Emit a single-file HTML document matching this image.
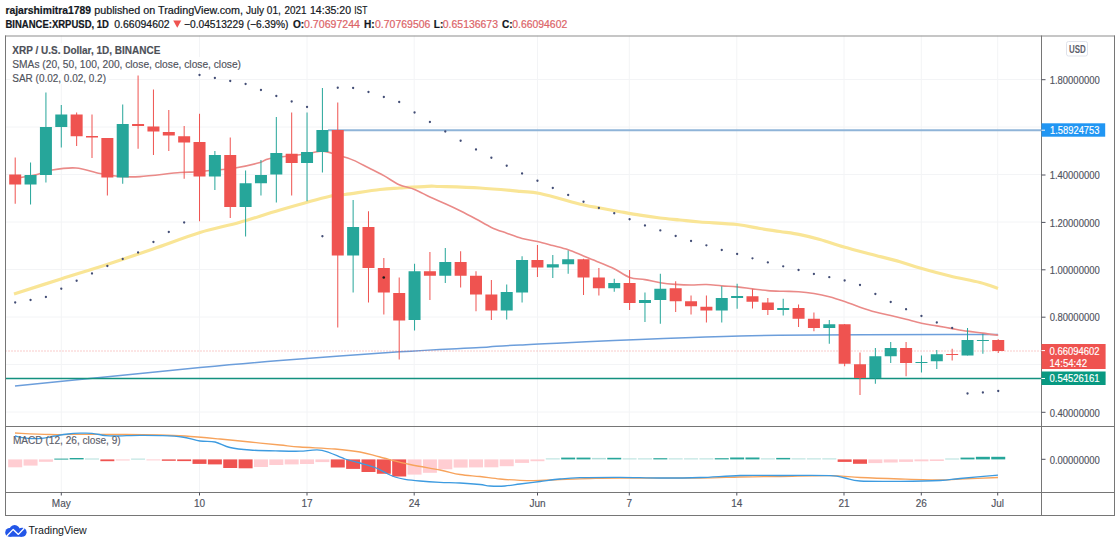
<!DOCTYPE html>
<html><head><meta charset="utf-8"><style>html,body{margin:0;padding:0;background:#fff;width:1120px;height:546px;overflow:hidden}</style></head><body>
<svg width="1120" height="546" viewBox="0 0 1120 546" style="display:block">
<rect width="1120" height="546" fill="#ffffff"/>
<g font-family='"Liberation Sans", sans-serif'>
<text x="5.4" y="13.6" font-size="10.3" fill="#131722" font-weight="bold" text-anchor="start" textLength="85.6" lengthAdjust="spacingAndGlyphs" stroke="#131722" stroke-width="0.2">rajarshimitra1789</text>
<text x="94.3" y="13.6" font-size="10.2" fill="#131722" font-weight="normal" text-anchor="start" textLength="60.9" lengthAdjust="spacingAndGlyphs" stroke="#131722" stroke-width="0.2">published on</text>
<text x="158" y="13.6" font-size="10.2" fill="#131722" font-weight="normal" text-anchor="start" textLength="85" lengthAdjust="spacingAndGlyphs" stroke="#131722" stroke-width="0.2">TradingView.com,</text>
<text x="246" y="13.6" font-size="10.2" fill="#131722" font-weight="normal" text-anchor="start" textLength="34.8" lengthAdjust="spacingAndGlyphs" stroke="#131722" stroke-width="0.2">July 01,</text>
<text x="284.5" y="13.6" font-size="10.2" fill="#131722" font-weight="normal" text-anchor="start" textLength="21.9" lengthAdjust="spacingAndGlyphs" stroke="#131722" stroke-width="0.2">2021</text>
<text x="310" y="13.6" font-size="10.2" fill="#131722" font-weight="normal" text-anchor="start" textLength="41" lengthAdjust="spacingAndGlyphs" stroke="#131722" stroke-width="0.2">14:35:20</text>
<text x="354.3" y="13.6" font-size="10.2" fill="#131722" font-weight="normal" text-anchor="start" textLength="13.0" lengthAdjust="spacingAndGlyphs" stroke="#131722" stroke-width="0.2">IST</text>
<text x="5.4" y="27.7" font-size="10.1" fill="#131722" font-weight="bold" text-anchor="start" textLength="103.6" lengthAdjust="spacingAndGlyphs" stroke="#131722" stroke-width="0.2">BINANCE:XRPUSD, 1D</text>
<text x="114.3" y="27.7" font-size="10.4" fill="#131722" font-weight="normal" text-anchor="start" textLength="55.3" lengthAdjust="spacingAndGlyphs" stroke="#131722" stroke-width="0.2">0.66094602</text>
<path d="M173.2,20.6 L181.3,20.6 L177.25,27.8 Z" fill="#ef5350"/>
<text x="184" y="27.7" font-size="10.4" fill="#131722" font-weight="normal" text-anchor="start" textLength="104.4" lengthAdjust="spacingAndGlyphs" stroke="#131722" stroke-width="0.2">−0.04513229 (−6.39%)</text>
<text x="293" y="27.7" font-size="10.1" fill="#131722" font-weight="bold" text-anchor="start" stroke="#131722" stroke-width="0.2">O:</text>
<text x="304" y="27.7" font-size="10.4" fill="#dc6468" font-weight="normal" text-anchor="start" textLength="56" lengthAdjust="spacingAndGlyphs" stroke="#dc6468" stroke-width="0.2">0.70697244</text>
<text x="364" y="27.7" font-size="10.1" fill="#131722" font-weight="bold" text-anchor="start" stroke="#131722" stroke-width="0.2">H:</text>
<text x="375" y="27.7" font-size="10.4" fill="#dc6468" font-weight="normal" text-anchor="start" textLength="55.4" lengthAdjust="spacingAndGlyphs" stroke="#dc6468" stroke-width="0.2">0.70769506</text>
<text x="433.8" y="27.7" font-size="10.1" fill="#131722" font-weight="bold" text-anchor="start" stroke="#131722" stroke-width="0.2">L:</text>
<text x="442.8" y="27.7" font-size="10.4" fill="#dc6468" font-weight="normal" text-anchor="start" textLength="55.2" lengthAdjust="spacingAndGlyphs" stroke="#dc6468" stroke-width="0.2">0.65136673</text>
<text x="502" y="27.7" font-size="10.1" fill="#131722" font-weight="bold" text-anchor="start" stroke="#131722" stroke-width="0.2">C:</text>
<text x="512.3" y="27.7" font-size="10.4" fill="#dc6468" font-weight="normal" text-anchor="start" textLength="54.9" lengthAdjust="spacingAndGlyphs" stroke="#dc6468" stroke-width="0.2">0.66094602</text>
</g>
<g>
<line x1="61.3" y1="35.5" x2="61.3" y2="492.5" stroke="#f3f4f6" stroke-width="1"/>
<line x1="199.5" y1="35.5" x2="199.5" y2="492.5" stroke="#f3f4f6" stroke-width="1"/>
<line x1="307" y1="35.5" x2="307" y2="492.5" stroke="#f3f4f6" stroke-width="1"/>
<line x1="414.2" y1="35.5" x2="414.2" y2="492.5" stroke="#f3f4f6" stroke-width="1"/>
<line x1="537.5" y1="35.5" x2="537.5" y2="492.5" stroke="#f3f4f6" stroke-width="1"/>
<line x1="629.3" y1="35.5" x2="629.3" y2="492.5" stroke="#f3f4f6" stroke-width="1"/>
<line x1="736.8" y1="35.5" x2="736.8" y2="492.5" stroke="#f3f4f6" stroke-width="1"/>
<line x1="844" y1="35.5" x2="844" y2="492.5" stroke="#f3f4f6" stroke-width="1"/>
<line x1="921.3" y1="35.5" x2="921.3" y2="492.5" stroke="#f3f4f6" stroke-width="1"/>
<line x1="997.7" y1="35.5" x2="997.7" y2="492.5" stroke="#f3f4f6" stroke-width="1"/>
<line x1="5.5" y1="79.5" x2="1041.5" y2="79.5" stroke="#f3f4f6" stroke-width="1"/>
<line x1="5.5" y1="127" x2="1041.5" y2="127" stroke="#f3f4f6" stroke-width="1"/>
<line x1="5.5" y1="174.5" x2="1041.5" y2="174.5" stroke="#f3f4f6" stroke-width="1"/>
<line x1="5.5" y1="222" x2="1041.5" y2="222" stroke="#f3f4f6" stroke-width="1"/>
<line x1="5.5" y1="269.5" x2="1041.5" y2="269.5" stroke="#f3f4f6" stroke-width="1"/>
<line x1="5.5" y1="317" x2="1041.5" y2="317" stroke="#f3f4f6" stroke-width="1"/>
<line x1="5.5" y1="364.5" x2="1041.5" y2="364.5" stroke="#f3f4f6" stroke-width="1"/>
<line x1="5.5" y1="412" x2="1041.5" y2="412" stroke="#f3f4f6" stroke-width="1"/>
</g>
<defs><clipPath id="mp"><rect x="5.5" y="35.5" width="1036.0" height="391.0"/></clipPath><clipPath id="mc"><rect x="5.5" y="426.5" width="1036.0" height="66.0"/></clipPath></defs>
<g clip-path="url(#mp)">
<path d="M15.00,386.00 C29.17,384.58 69.17,380.58 100.00,377.50 C130.83,374.42 170.00,370.33 200.00,367.50 C230.00,364.67 246.75,363.12 280.00,360.50 C313.25,357.88 366.17,353.97 399.50,351.80 C432.83,349.63 459.92,348.63 480.00,347.50 C500.08,346.37 476.67,346.92 520.00,345.00 C563.33,343.08 660.33,337.75 740.00,336.00 C819.67,334.25 955.00,334.75 998.00,334.50" fill="none" stroke="#6c9edb" stroke-width="1.5"/>
<path d="M14.00,294.00 C21.83,291.50 45.50,283.92 61.00,279.00 C76.50,274.08 91.67,269.50 107.00,264.50 C122.33,259.50 137.50,254.33 153.00,249.00 C168.50,243.67 185.50,236.95 200.00,232.50 C214.50,228.05 226.67,226.05 240.00,222.30 C253.33,218.55 265.00,214.34 280.00,210.00 C295.00,205.66 319.17,198.83 330.00,196.25 C340.83,193.67 336.67,195.62 345.00,194.50 C353.33,193.38 370.83,190.58 380.00,189.50 C389.17,188.42 392.08,188.53 400.00,188.00 C407.92,187.47 420.83,186.55 427.50,186.30 C434.17,186.05 431.25,186.22 440.00,186.50 C448.75,186.78 466.67,187.20 480.00,188.00 C493.33,188.80 510.00,190.38 520.00,191.30 C530.00,192.22 529.50,191.25 540.00,193.50 C550.50,195.75 573.00,202.38 583.00,204.80 C593.00,207.22 593.83,206.85 600.00,208.00 C606.17,209.15 613.33,210.50 620.00,211.70 C626.67,212.90 633.33,214.15 640.00,215.20 C646.67,216.25 653.33,217.20 660.00,218.00 C666.67,218.80 673.33,219.33 680.00,220.00 C686.67,220.67 690.50,221.25 700.00,222.00 C709.50,222.75 727.00,223.42 737.00,224.50 C747.00,225.58 752.83,227.33 760.00,228.50 C767.17,229.67 773.33,230.48 780.00,231.50 C786.67,232.52 793.33,233.27 800.00,234.60 C806.67,235.93 812.67,237.43 820.00,239.50 C827.33,241.57 835.67,244.58 844.00,247.00 C852.33,249.42 860.67,251.55 870.00,254.00 C879.33,256.45 891.67,259.37 900.00,261.70 C908.33,264.03 911.67,265.62 920.00,268.00 C928.33,270.38 940.00,273.58 950.00,276.00 C960.00,278.42 972.00,280.42 980.00,282.50 C988.00,284.58 995.00,287.50 998.00,288.50" fill="none" stroke="#f9e596" stroke-width="3.2" stroke-linejoin="round"/>
<path d="M15.20,178.00 C16.00,177.92 16.37,178.08 20.00,177.50 C23.63,176.92 31.67,175.75 37.00,174.50 C42.33,173.25 45.50,171.08 52.00,170.00 C58.50,168.92 68.00,167.42 76.00,168.00 C84.00,168.58 92.67,172.08 100.00,173.50 C107.33,174.92 113.33,175.98 120.00,176.50 C126.67,177.02 130.00,177.27 140.00,176.60 C150.00,175.93 170.83,173.27 180.00,172.50 C189.17,171.73 190.00,172.33 195.00,172.00 C200.00,171.67 203.33,171.17 210.00,170.50 C216.67,169.83 226.67,169.33 235.00,168.00 C243.33,166.67 254.17,164.08 260.00,162.50 C265.83,160.92 262.16,159.95 270.00,158.50 C277.84,157.05 298.31,155.06 307.04,153.82 C315.77,152.59 317.28,150.88 322.40,151.10 C327.52,151.32 332.64,153.62 337.76,155.12 C342.88,156.63 348.00,158.01 353.12,160.12 C358.24,162.24 363.36,165.22 368.48,167.80 C373.60,170.38 378.72,172.79 383.84,175.61 C388.96,178.44 394.08,182.46 399.20,184.76 C404.32,187.07 409.44,187.40 414.56,189.45 C419.68,191.50 424.80,194.64 429.92,197.04 C435.04,199.44 440.16,201.50 445.28,203.84 C450.40,206.17 455.52,208.52 460.64,211.05 C465.76,213.58 470.88,216.28 476.00,219.00 C481.12,221.72 486.24,225.04 491.36,227.40 C496.48,229.76 501.60,231.34 506.72,233.18 C511.84,235.01 516.96,237.05 522.08,238.43 C527.20,239.80 532.32,240.27 537.44,241.45 C542.56,242.63 547.68,244.12 552.80,245.50 C557.92,246.88 563.04,247.97 568.16,249.71 C573.28,251.45 578.40,253.86 583.52,255.94 C588.64,258.02 593.76,260.06 598.88,262.20 C604.00,264.34 609.12,266.22 614.24,268.75 C619.36,271.28 624.48,275.59 629.60,277.40 C634.72,279.21 639.84,278.74 644.96,279.62 C650.08,280.51 655.20,281.92 660.32,282.71 C665.44,283.50 670.56,283.98 675.68,284.38 C680.80,284.77 685.92,285.03 691.04,285.06 C696.16,285.09 701.28,284.42 706.40,284.56 C711.52,284.70 716.64,285.51 721.76,285.90 C726.88,286.29 732.00,286.41 737.12,286.91 C742.24,287.41 747.36,288.28 752.48,288.90 C757.60,289.52 762.72,290.21 767.84,290.61 C772.96,291.01 778.08,291.11 783.20,291.29 C788.32,291.47 793.44,291.33 798.56,291.70 C803.68,292.07 808.80,292.66 813.92,293.50 C819.04,294.34 824.16,295.38 829.28,296.71 C834.40,298.05 839.52,299.77 844.64,301.52 C849.76,303.27 854.88,305.46 860.00,307.21 C865.12,308.97 870.24,310.67 875.36,312.06 C880.48,313.46 885.60,314.38 890.72,315.59 C895.84,316.80 900.96,318.04 906.08,319.32 C911.20,320.61 916.32,322.19 921.44,323.27 C926.56,324.36 931.68,324.95 936.80,325.84 C941.92,326.72 947.04,327.70 952.16,328.59 C957.28,329.47 962.40,330.40 967.52,331.15 C972.64,331.90 977.76,332.39 982.88,333.09 C988.00,333.78 995.68,334.95 998.24,335.32" fill="none" stroke="#ea8a88" stroke-width="1.6" stroke-linejoin="round"/>
<line x1="328" y1="130.2" x2="1041.5" y2="130.2" stroke="#8fb4d8" stroke-width="1.9"/>
<line x1="5.5" y1="378.5" x2="1041.5" y2="378.5" stroke="#13917f" stroke-width="1.6"/>
<line x1="5.5" y1="351" x2="1041.5" y2="351" stroke="#ef5350" stroke-width="1" stroke-dasharray="1,2" opacity="0.6"/>
<rect x="14.70" y="157.5" width="1" height="46.25" fill="#ef5350"/>
<rect x="9.20" y="174.5" width="12" height="10.00" fill="#ef5350"/>
<rect x="30.06" y="162.5" width="1" height="42.00" fill="#26a69a"/>
<rect x="24.56" y="175" width="12" height="9.50" fill="#26a69a"/>
<rect x="45.42" y="92.5" width="1" height="90.00" fill="#26a69a"/>
<rect x="39.92" y="127" width="12" height="48.00" fill="#26a69a"/>
<rect x="60.78" y="105" width="1" height="42.50" fill="#26a69a"/>
<rect x="55.28" y="114.5" width="12" height="12.50" fill="#26a69a"/>
<rect x="76.14" y="112.5" width="1" height="33.50" fill="#ef5350"/>
<rect x="70.64" y="114.5" width="12" height="21.75" fill="#ef5350"/>
<rect x="91.50" y="114.5" width="1" height="43.50" fill="#ef5350"/>
<rect x="86.00" y="136" width="12" height="1.50" fill="#ef5350"/>
<rect x="106.86" y="138" width="1" height="57.50" fill="#ef5350"/>
<rect x="101.36" y="138" width="12" height="39.50" fill="#ef5350"/>
<rect x="122.22" y="104.5" width="1" height="79.25" fill="#26a69a"/>
<rect x="116.72" y="124" width="12" height="53.50" fill="#26a69a"/>
<rect x="137.58" y="75.5" width="1" height="73.25" fill="#ef5350"/>
<rect x="132.08" y="124" width="12" height="2.00" fill="#ef5350"/>
<rect x="152.94" y="89.5" width="1" height="65.50" fill="#ef5350"/>
<rect x="147.44" y="126.5" width="12" height="5.00" fill="#ef5350"/>
<rect x="168.30" y="110" width="1" height="41.00" fill="#ef5350"/>
<rect x="162.80" y="132" width="12" height="3.50" fill="#ef5350"/>
<rect x="183.66" y="126" width="1" height="52.75" fill="#ef5350"/>
<rect x="178.16" y="136.25" width="12" height="6.25" fill="#ef5350"/>
<rect x="199.02" y="113.75" width="1" height="107.50" fill="#ef5350"/>
<rect x="193.52" y="142" width="12" height="34.50" fill="#ef5350"/>
<rect x="214.38" y="151" width="1" height="39.00" fill="#26a69a"/>
<rect x="208.88" y="155" width="12" height="21.50" fill="#26a69a"/>
<rect x="229.74" y="137.5" width="1" height="80.50" fill="#ef5350"/>
<rect x="224.24" y="155" width="12" height="52.00" fill="#ef5350"/>
<rect x="245.10" y="170.5" width="1" height="66.00" fill="#26a69a"/>
<rect x="239.60" y="183.25" width="12" height="23.75" fill="#26a69a"/>
<rect x="260.46" y="160" width="1" height="35.50" fill="#26a69a"/>
<rect x="254.96" y="175" width="12" height="8.25" fill="#26a69a"/>
<rect x="275.82" y="117" width="1" height="85.50" fill="#26a69a"/>
<rect x="270.32" y="153" width="12" height="21.50" fill="#26a69a"/>
<rect x="291.18" y="112.5" width="1" height="83.00" fill="#ef5350"/>
<rect x="285.68" y="153.75" width="12" height="9.25" fill="#ef5350"/>
<rect x="306.54" y="112.5" width="1" height="88.75" fill="#26a69a"/>
<rect x="301.04" y="152" width="12" height="11.00" fill="#26a69a"/>
<rect x="321.90" y="88" width="1" height="84.50" fill="#26a69a"/>
<rect x="316.40" y="130" width="12" height="22.00" fill="#26a69a"/>
<rect x="337.26" y="102.5" width="1" height="225.00" fill="#ef5350"/>
<rect x="331.76" y="130" width="12" height="125.50" fill="#ef5350"/>
<rect x="352.62" y="200" width="1" height="92.50" fill="#26a69a"/>
<rect x="347.12" y="227" width="12" height="28.50" fill="#26a69a"/>
<rect x="367.98" y="211.25" width="1" height="91.25" fill="#ef5350"/>
<rect x="362.48" y="227" width="12" height="41.00" fill="#ef5350"/>
<rect x="383.34" y="258" width="1" height="56.50" fill="#ef5350"/>
<rect x="377.84" y="268" width="12" height="24.50" fill="#ef5350"/>
<rect x="398.70" y="277.5" width="1" height="82.00" fill="#ef5350"/>
<rect x="393.20" y="293" width="12" height="27.50" fill="#ef5350"/>
<rect x="414.06" y="263.75" width="1" height="66.75" fill="#26a69a"/>
<rect x="408.56" y="271.25" width="12" height="48.75" fill="#26a69a"/>
<rect x="429.42" y="252" width="1" height="48.00" fill="#ef5350"/>
<rect x="423.92" y="271.25" width="12" height="4.50" fill="#ef5350"/>
<rect x="444.78" y="248" width="1" height="35.00" fill="#26a69a"/>
<rect x="439.28" y="262" width="12" height="13.75" fill="#26a69a"/>
<rect x="460.14" y="251.25" width="1" height="36.25" fill="#ef5350"/>
<rect x="454.64" y="262" width="12" height="13.75" fill="#ef5350"/>
<rect x="475.50" y="271.25" width="1" height="40.00" fill="#ef5350"/>
<rect x="470.00" y="275.75" width="12" height="18.75" fill="#ef5350"/>
<rect x="490.86" y="280" width="1" height="40.00" fill="#ef5350"/>
<rect x="485.36" y="294.5" width="12" height="16.00" fill="#ef5350"/>
<rect x="506.22" y="284.5" width="1" height="35.00" fill="#26a69a"/>
<rect x="500.72" y="292" width="12" height="18.50" fill="#26a69a"/>
<rect x="521.58" y="256.25" width="1" height="46.25" fill="#26a69a"/>
<rect x="516.08" y="260" width="12" height="32.50" fill="#26a69a"/>
<rect x="536.94" y="245" width="1" height="32.00" fill="#ef5350"/>
<rect x="531.44" y="260" width="12" height="7.50" fill="#ef5350"/>
<rect x="552.30" y="255" width="1" height="23.00" fill="#26a69a"/>
<rect x="546.80" y="264.25" width="12" height="3.25" fill="#26a69a"/>
<rect x="567.66" y="250.5" width="1" height="23.25" fill="#26a69a"/>
<rect x="562.16" y="259.25" width="12" height="5.00" fill="#26a69a"/>
<rect x="583.02" y="258.75" width="1" height="36.25" fill="#ef5350"/>
<rect x="577.52" y="259.25" width="12" height="18.25" fill="#ef5350"/>
<rect x="598.38" y="268" width="1" height="27.50" fill="#ef5350"/>
<rect x="592.88" y="277.5" width="12" height="10.75" fill="#ef5350"/>
<rect x="613.74" y="278.75" width="1" height="13.00" fill="#26a69a"/>
<rect x="608.24" y="283" width="12" height="5.25" fill="#26a69a"/>
<rect x="629.10" y="270" width="1" height="40.00" fill="#ef5350"/>
<rect x="623.60" y="283" width="12" height="20.00" fill="#ef5350"/>
<rect x="644.46" y="292.5" width="1" height="29.50" fill="#26a69a"/>
<rect x="638.96" y="300" width="12" height="3.00" fill="#26a69a"/>
<rect x="659.82" y="273.75" width="1" height="50.00" fill="#26a69a"/>
<rect x="654.32" y="288.75" width="12" height="11.25" fill="#26a69a"/>
<rect x="675.18" y="281.25" width="1" height="30.75" fill="#ef5350"/>
<rect x="669.68" y="288.25" width="12" height="13.00" fill="#ef5350"/>
<rect x="690.54" y="295.5" width="1" height="19.00" fill="#ef5350"/>
<rect x="685.04" y="301.25" width="12" height="5.00" fill="#ef5350"/>
<rect x="705.90" y="295.5" width="1" height="27.00" fill="#ef5350"/>
<rect x="700.40" y="306.75" width="12" height="3.75" fill="#ef5350"/>
<rect x="721.26" y="286.25" width="1" height="36.25" fill="#26a69a"/>
<rect x="715.76" y="298" width="12" height="12.50" fill="#26a69a"/>
<rect x="736.62" y="283.75" width="1" height="25.00" fill="#26a69a"/>
<rect x="731.12" y="296" width="12" height="2.00" fill="#26a69a"/>
<rect x="751.98" y="289.25" width="1" height="19.25" fill="#ef5350"/>
<rect x="746.48" y="296.25" width="12" height="5.50" fill="#ef5350"/>
<rect x="767.34" y="298" width="1" height="17.00" fill="#ef5350"/>
<rect x="761.84" y="302.5" width="12" height="7.50" fill="#ef5350"/>
<rect x="782.70" y="298.75" width="1" height="16.75" fill="#26a69a"/>
<rect x="777.20" y="308" width="12" height="2.00" fill="#26a69a"/>
<rect x="798.06" y="304.5" width="1" height="22.50" fill="#ef5350"/>
<rect x="792.56" y="308" width="12" height="10.75" fill="#ef5350"/>
<rect x="813.42" y="312.5" width="1" height="18.75" fill="#ef5350"/>
<rect x="807.92" y="318.75" width="12" height="9.25" fill="#ef5350"/>
<rect x="828.78" y="320" width="1" height="23.75" fill="#26a69a"/>
<rect x="823.28" y="324.25" width="12" height="3.75" fill="#26a69a"/>
<rect x="844.14" y="324" width="1" height="42.25" fill="#ef5350"/>
<rect x="838.64" y="324.25" width="12" height="39.50" fill="#ef5350"/>
<rect x="859.50" y="352.5" width="1" height="42.50" fill="#ef5350"/>
<rect x="854.00" y="364.25" width="12" height="13.75" fill="#ef5350"/>
<rect x="874.86" y="348" width="1" height="35.75" fill="#26a69a"/>
<rect x="869.36" y="356.25" width="12" height="21.75" fill="#26a69a"/>
<rect x="890.22" y="342" width="1" height="21.00" fill="#26a69a"/>
<rect x="884.72" y="348" width="12" height="8.25" fill="#26a69a"/>
<rect x="905.58" y="342" width="1" height="34.25" fill="#ef5350"/>
<rect x="900.08" y="348" width="12" height="15.00" fill="#ef5350"/>
<rect x="920.94" y="355.5" width="1" height="17.00" fill="#26a69a"/>
<rect x="915.44" y="362" width="12" height="1.00" fill="#26a69a"/>
<rect x="936.30" y="350" width="1" height="19.00" fill="#26a69a"/>
<rect x="930.80" y="354.25" width="12" height="7.00" fill="#26a69a"/>
<rect x="951.66" y="348.75" width="1" height="11.75" fill="#ef5350"/>
<rect x="946.16" y="354" width="12" height="1.00" fill="#ef5350"/>
<rect x="967.02" y="328" width="1" height="27.50" fill="#26a69a"/>
<rect x="961.52" y="340" width="12" height="15.50" fill="#26a69a"/>
<rect x="982.38" y="333.75" width="1" height="20.00" fill="#26a69a"/>
<rect x="976.88" y="340" width="12" height="1.00" fill="#26a69a"/>
<rect x="997.74" y="339.2" width="1" height="13.80" fill="#ef5350"/>
<rect x="992.24" y="340" width="12" height="11.00" fill="#ef5350"/>
<circle cx="383.75" cy="277.5" r="1.3" fill="#1a1a1a"/>
<circle cx="15.20" cy="302.5" r="1.15" fill="#424d75"/>
<circle cx="30.56" cy="300" r="1.15" fill="#424d75"/>
<circle cx="45.92" cy="297" r="1.15" fill="#424d75"/>
<circle cx="61.28" cy="288.75" r="1.15" fill="#424d75"/>
<circle cx="76.64" cy="280.75" r="1.15" fill="#424d75"/>
<circle cx="92.00" cy="273.5" r="1.15" fill="#424d75"/>
<circle cx="107.36" cy="266" r="1.15" fill="#424d75"/>
<circle cx="122.72" cy="259" r="1.15" fill="#424d75"/>
<circle cx="138.08" cy="252.5" r="1.15" fill="#424d75"/>
<circle cx="153.44" cy="242" r="1.15" fill="#424d75"/>
<circle cx="168.80" cy="232" r="1.15" fill="#424d75"/>
<circle cx="184.16" cy="222.5" r="1.15" fill="#424d75"/>
<circle cx="199.52" cy="75" r="1.15" fill="#424d75"/>
<circle cx="214.88" cy="78" r="1.15" fill="#424d75"/>
<circle cx="230.24" cy="81" r="1.15" fill="#424d75"/>
<circle cx="245.60" cy="84" r="1.15" fill="#424d75"/>
<circle cx="260.96" cy="90" r="1.15" fill="#424d75"/>
<circle cx="276.32" cy="96" r="1.15" fill="#424d75"/>
<circle cx="291.68" cy="101.5" r="1.15" fill="#424d75"/>
<circle cx="307.04" cy="107" r="1.15" fill="#424d75"/>
<circle cx="322.40" cy="236.25" r="1.15" fill="#424d75"/>
<circle cx="337.76" cy="87.75" r="1.15" fill="#424d75"/>
<circle cx="353.12" cy="88" r="1.15" fill="#424d75"/>
<circle cx="368.48" cy="92" r="1.15" fill="#424d75"/>
<circle cx="383.84" cy="97" r="1.15" fill="#424d75"/>
<circle cx="399.20" cy="102" r="1.15" fill="#424d75"/>
<circle cx="414.56" cy="112.5" r="1.15" fill="#424d75"/>
<circle cx="429.92" cy="122" r="1.15" fill="#424d75"/>
<circle cx="445.28" cy="131.5" r="1.15" fill="#424d75"/>
<circle cx="460.64" cy="140.75" r="1.15" fill="#424d75"/>
<circle cx="476.00" cy="149.5" r="1.15" fill="#424d75"/>
<circle cx="491.36" cy="157.75" r="1.15" fill="#424d75"/>
<circle cx="506.72" cy="165.75" r="1.15" fill="#424d75"/>
<circle cx="522.08" cy="173.5" r="1.15" fill="#424d75"/>
<circle cx="537.44" cy="180.75" r="1.15" fill="#424d75"/>
<circle cx="552.80" cy="188" r="1.15" fill="#424d75"/>
<circle cx="568.16" cy="195" r="1.15" fill="#424d75"/>
<circle cx="583.52" cy="201.75" r="1.15" fill="#424d75"/>
<circle cx="598.88" cy="208" r="1.15" fill="#424d75"/>
<circle cx="614.24" cy="213.25" r="1.15" fill="#424d75"/>
<circle cx="629.60" cy="219.25" r="1.15" fill="#424d75"/>
<circle cx="644.96" cy="225.5" r="1.15" fill="#424d75"/>
<circle cx="660.32" cy="230.4" r="1.15" fill="#424d75"/>
<circle cx="675.68" cy="236" r="1.15" fill="#424d75"/>
<circle cx="691.04" cy="241" r="1.15" fill="#424d75"/>
<circle cx="706.40" cy="245.3" r="1.15" fill="#424d75"/>
<circle cx="721.76" cy="250" r="1.15" fill="#424d75"/>
<circle cx="737.12" cy="254" r="1.15" fill="#424d75"/>
<circle cx="752.48" cy="258.3" r="1.15" fill="#424d75"/>
<circle cx="767.84" cy="262.4" r="1.15" fill="#424d75"/>
<circle cx="783.20" cy="266.3" r="1.15" fill="#424d75"/>
<circle cx="798.56" cy="270" r="1.15" fill="#424d75"/>
<circle cx="813.92" cy="274" r="1.15" fill="#424d75"/>
<circle cx="829.28" cy="277.2" r="1.15" fill="#424d75"/>
<circle cx="844.64" cy="280.5" r="1.15" fill="#424d75"/>
<circle cx="860.00" cy="285" r="1.15" fill="#424d75"/>
<circle cx="875.36" cy="294" r="1.15" fill="#424d75"/>
<circle cx="890.72" cy="302" r="1.15" fill="#424d75"/>
<circle cx="906.08" cy="309.25" r="1.15" fill="#424d75"/>
<circle cx="921.44" cy="316" r="1.15" fill="#424d75"/>
<circle cx="936.80" cy="322.5" r="1.15" fill="#424d75"/>
<circle cx="952.16" cy="328" r="1.15" fill="#424d75"/>
<circle cx="967.52" cy="393.5" r="1.15" fill="#424d75"/>
<circle cx="982.88" cy="392.5" r="1.15" fill="#424d75"/>
<circle cx="998.24" cy="391" r="1.15" fill="#424d75"/>
</g>
<g clip-path="url(#mc)">
<rect x="8.20" y="459.40" width="14" height="7.90" fill="#ffcdd2"/>
<rect x="23.56" y="459.40" width="14" height="6.20" fill="#ffcdd2"/>
<rect x="38.92" y="459.40" width="14" height="2.40" fill="#ffcdd2"/>
<rect x="54.28" y="458.60" width="14" height="1.00" fill="#26a69a"/>
<rect x="69.64" y="458.00" width="14" height="1.40" fill="#26a69a"/>
<rect x="85.00" y="458.50" width="14" height="1.00" fill="#b2dfdb"/>
<rect x="100.36" y="459.40" width="14" height="1.80" fill="#ef5350"/>
<rect x="115.72" y="459.40" width="14" height="1.10" fill="#ffcdd2"/>
<rect x="131.08" y="458.60" width="14" height="1.00" fill="#b2dfdb"/>
<rect x="146.44" y="459.40" width="14" height="1.00" fill="#ffcdd2"/>
<rect x="161.80" y="459.40" width="14" height="1.40" fill="#ef5350"/>
<rect x="177.16" y="459.40" width="14" height="1.70" fill="#ef5350"/>
<rect x="192.52" y="459.40" width="14" height="4.50" fill="#ef5350"/>
<rect x="207.88" y="459.40" width="14" height="5.00" fill="#ef5350"/>
<rect x="223.24" y="459.40" width="14" height="8.60" fill="#ef5350"/>
<rect x="238.60" y="459.40" width="14" height="8.90" fill="#ef5350"/>
<rect x="253.96" y="459.40" width="14" height="7.60" fill="#ffcdd2"/>
<rect x="269.32" y="459.40" width="14" height="5.60" fill="#ffcdd2"/>
<rect x="284.68" y="459.40" width="14" height="5.00" fill="#ffcdd2"/>
<rect x="300.04" y="459.40" width="14" height="4.60" fill="#ffcdd2"/>
<rect x="315.40" y="459.40" width="14" height="2.70" fill="#ffcdd2"/>
<rect x="330.76" y="459.40" width="14" height="8.10" fill="#ef5350"/>
<rect x="346.12" y="459.40" width="14" height="9.50" fill="#ef5350"/>
<rect x="361.48" y="459.40" width="14" height="12.60" fill="#ef5350"/>
<rect x="376.84" y="459.40" width="14" height="14.35" fill="#ef5350"/>
<rect x="392.20" y="459.40" width="14" height="17.10" fill="#ef5350"/>
<rect x="407.56" y="459.40" width="14" height="15.20" fill="#ffcdd2"/>
<rect x="422.92" y="459.40" width="14" height="13.40" fill="#ffcdd2"/>
<rect x="438.28" y="459.40" width="14" height="9.90" fill="#ffcdd2"/>
<rect x="453.64" y="459.40" width="14" height="8.20" fill="#ffcdd2"/>
<rect x="469.00" y="459.40" width="14" height="8.00" fill="#ffcdd2"/>
<rect x="484.36" y="459.40" width="14" height="7.90" fill="#ffcdd2"/>
<rect x="499.72" y="459.40" width="14" height="6.80" fill="#ffcdd2"/>
<rect x="515.08" y="459.40" width="14" height="3.50" fill="#ffcdd2"/>
<rect x="530.44" y="459.40" width="14" height="1.80" fill="#ffcdd2"/>
<rect x="545.80" y="458.40" width="14" height="1.00" fill="#b2dfdb"/>
<rect x="561.16" y="457.60" width="14" height="1.80" fill="#26a69a"/>
<rect x="576.52" y="457.60" width="14" height="1.80" fill="#26a69a"/>
<rect x="591.88" y="457.90" width="14" height="1.50" fill="#b2dfdb"/>
<rect x="607.24" y="457.80" width="14" height="1.60" fill="#26a69a"/>
<rect x="622.60" y="458.40" width="14" height="1.00" fill="#b2dfdb"/>
<rect x="637.96" y="458.40" width="14" height="1.00" fill="#b2dfdb"/>
<rect x="653.32" y="458.20" width="14" height="1.20" fill="#26a69a"/>
<rect x="668.68" y="458.40" width="14" height="1.00" fill="#b2dfdb"/>
<rect x="684.04" y="458.40" width="14" height="1.00" fill="#b2dfdb"/>
<rect x="699.40" y="458.40" width="14" height="1.00" fill="#b2dfdb"/>
<rect x="714.76" y="458.20" width="14" height="1.20" fill="#26a69a"/>
<rect x="730.12" y="457.50" width="14" height="1.90" fill="#26a69a"/>
<rect x="745.48" y="457.50" width="14" height="1.90" fill="#26a69a"/>
<rect x="760.84" y="458.40" width="14" height="1.00" fill="#b2dfdb"/>
<rect x="776.20" y="457.90" width="14" height="1.50" fill="#26a69a"/>
<rect x="791.56" y="458.40" width="14" height="1.00" fill="#b2dfdb"/>
<rect x="806.92" y="458.40" width="14" height="1.00" fill="#b2dfdb"/>
<rect x="822.28" y="458.40" width="14" height="1.00" fill="#b2dfdb"/>
<rect x="837.64" y="459.40" width="14" height="2.50" fill="#ef5350"/>
<rect x="853.00" y="459.40" width="14" height="4.40" fill="#ef5350"/>
<rect x="868.36" y="459.40" width="14" height="3.70" fill="#ffcdd2"/>
<rect x="883.72" y="459.40" width="14" height="3.10" fill="#ffcdd2"/>
<rect x="899.08" y="459.40" width="14" height="2.50" fill="#ffcdd2"/>
<rect x="914.44" y="459.40" width="14" height="1.90" fill="#ffcdd2"/>
<rect x="929.80" y="459.40" width="14" height="1.60" fill="#ffcdd2"/>
<rect x="945.16" y="458.50" width="14" height="1.00" fill="#b2dfdb"/>
<rect x="960.52" y="457.60" width="14" height="1.80" fill="#26a69a"/>
<rect x="975.88" y="456.80" width="14" height="2.60" fill="#26a69a"/>
<rect x="991.24" y="456.80" width="14" height="2.60" fill="#26a69a"/>
<path d="M15.00,433.00 C20.83,433.25 35.83,434.28 50.00,434.50 C64.17,434.72 81.67,434.22 100.00,434.30 C118.33,434.38 145.83,434.72 160.00,435.00 C174.17,435.28 175.00,435.33 185.00,436.00 C195.00,436.67 209.17,438.00 220.00,439.00 C230.83,440.00 240.00,441.00 250.00,442.00 C260.00,443.00 271.67,444.17 280.00,445.00 C288.33,445.83 290.83,446.33 300.00,447.00 C309.17,447.67 325.00,448.17 335.00,449.00 C345.00,449.83 352.50,450.67 360.00,452.00 C367.50,453.33 371.67,454.92 380.00,457.00 C388.33,459.08 400.00,462.33 410.00,464.50 C420.00,466.67 431.67,468.33 440.00,470.00 C448.33,471.67 453.33,473.42 460.00,474.50 C466.67,475.58 473.33,475.75 480.00,476.50 C486.67,477.25 493.33,478.37 500.00,479.00 C506.67,479.63 513.33,480.05 520.00,480.30 C526.67,480.55 533.33,480.63 540.00,480.50 C546.67,480.37 551.67,479.83 560.00,479.50 C568.33,479.17 580.00,478.75 590.00,478.50 C600.00,478.25 601.67,478.08 620.00,478.00 C638.33,477.92 680.00,478.17 700.00,478.00 C720.00,477.83 726.67,477.25 740.00,477.00 C753.33,476.75 765.00,476.73 780.00,476.50 C795.00,476.27 816.67,475.43 830.00,475.60 C843.33,475.77 848.33,476.93 860.00,477.50 C871.67,478.07 886.67,478.58 900.00,479.00 C913.33,479.42 930.00,480.00 940.00,480.00 C950.00,480.00 950.33,479.42 960.00,479.00 C969.67,478.58 991.67,477.75 998.00,477.50" fill="none" stroke="#f7a35c" stroke-width="1.3" stroke-linejoin="round"/>
<path d="M15.00,436.00 C17.17,436.38 23.50,437.92 28.00,438.30 C32.50,438.68 37.50,438.68 42.00,438.30 C46.50,437.92 50.67,436.72 55.00,436.00 C59.33,435.28 63.83,434.47 68.00,434.00 C72.17,433.53 76.00,433.32 80.00,433.20 C84.00,433.08 87.83,432.92 92.00,433.30 C96.17,433.68 101.17,435.05 105.00,435.50 C108.83,435.95 109.17,436.03 115.00,436.00 C120.83,435.97 132.50,435.37 140.00,435.30 C147.50,435.23 153.00,435.32 160.00,435.60 C167.00,435.88 175.33,436.10 182.00,437.00 C188.67,437.90 194.50,440.17 200.00,441.00 C205.50,441.83 210.00,440.92 215.00,442.00 C220.00,443.08 224.17,446.17 230.00,447.50 C235.83,448.83 241.67,449.42 250.00,450.00 C258.33,450.58 271.67,450.80 280.00,451.00 C288.33,451.20 293.00,451.32 300.00,451.20 C307.00,451.08 314.50,449.00 322.00,450.30 C329.50,451.60 338.67,456.88 345.00,459.00 C351.33,461.12 355.00,461.58 360.00,463.00 C365.00,464.42 370.50,465.75 375.00,467.50 C379.50,469.25 383.67,471.92 387.00,473.50 C390.33,475.08 392.00,476.03 395.00,477.00 C398.00,477.97 400.83,478.63 405.00,479.30 C409.17,479.97 414.17,480.50 420.00,481.00 C425.83,481.50 433.33,481.97 440.00,482.30 C446.67,482.63 453.33,482.63 460.00,483.00 C466.67,483.37 475.00,484.00 480.00,484.50 C485.00,485.00 485.83,485.75 490.00,486.00 C494.17,486.25 500.00,486.33 505.00,486.00 C510.00,485.67 514.17,484.75 520.00,484.00 C525.83,483.25 533.33,482.33 540.00,481.50 C546.67,480.67 553.33,479.63 560.00,479.00 C566.67,478.37 570.00,477.98 580.00,477.70 C590.00,477.42 606.67,477.25 620.00,477.30 C633.33,477.35 646.67,477.97 660.00,478.00 C673.33,478.03 686.67,477.92 700.00,477.50 C713.33,477.08 726.67,475.83 740.00,475.50 C753.33,475.17 765.00,475.48 780.00,475.50 C795.00,475.52 819.17,475.18 830.00,475.60 C840.83,476.02 840.00,477.10 845.00,478.00 C850.00,478.90 850.83,480.45 860.00,481.00 C869.17,481.55 886.67,481.38 900.00,481.30 C913.33,481.22 930.00,480.97 940.00,480.50 C950.00,480.03 950.33,479.38 960.00,478.50 C969.67,477.62 991.67,475.75 998.00,475.20" fill="none" stroke="#3d9be0" stroke-width="1.3" stroke-linejoin="round"/>
</g>
<g font-family='"Liberation Sans", sans-serif'>
<rect x="10" y="43" width="153" height="13" fill="#fff" fill-opacity="0.85"/><rect x="10" y="57" width="234" height="13" fill="#fff" fill-opacity="0.85"/><rect x="10" y="71" width="99" height="13" fill="#fff" fill-opacity="0.85"/>
<text x="12.3" y="53.9" font-size="10" fill="#4c4f57" font-weight="bold" text-anchor="start" textLength="148" lengthAdjust="spacingAndGlyphs" stroke="#4c4f57" stroke-width="0.15">XRP / U.S. Dollar, 1D, BINANCE</text>
<text x="12.3" y="67.8" font-size="10" fill="#4f525b" font-weight="normal" text-anchor="start" textLength="228.7" lengthAdjust="spacingAndGlyphs" stroke="#4f525b" stroke-width="0.15">SMAs (20, 50, 100, 200, close, close, close, close)</text>
<text x="12.3" y="81.7" font-size="10" fill="#4f525b" font-weight="normal" text-anchor="start" textLength="93.7" lengthAdjust="spacingAndGlyphs" stroke="#4f525b" stroke-width="0.15">SAR (0.02, 0.02, 0.2)</text>
<text x="12.9" y="443.9" font-size="10" fill="#5d606b" font-weight="normal" text-anchor="start" textLength="107.8" lengthAdjust="spacingAndGlyphs" stroke="#5d606b" stroke-width="0.15">MACD (12, 26, close, 9)</text>
</g>
<line x1="5.0" y1="36" x2="1115.0" y2="36" stroke="#8e8e8e" stroke-width="1.2"/>
<line x1="5.5" y1="35.5" x2="5.5" y2="516.0" stroke="#767676" stroke-width="1"/>
<line x1="1114.5" y1="35.5" x2="1114.5" y2="516.0" stroke="#767676" stroke-width="1"/>
<line x1="5.5" y1="515.5" x2="1114.5" y2="515.5" stroke="#767676" stroke-width="1"/>
<line x1="1041.5" y1="35.5" x2="1041.5" y2="515.5" stroke="#767676" stroke-width="1"/>
<line x1="5.5" y1="426.5" x2="1114.5" y2="426.5" stroke="#767676" stroke-width="1"/>
<line x1="5.5" y1="492.5" x2="1114.5" y2="492.5" stroke="#767676" stroke-width="1"/>
<g font-family='"Liberation Sans", sans-serif'>
<rect x="1066.5" y="41.5" width="21" height="14.5" rx="2" fill="#fff" stroke="#e0e3eb"/>
<text x="1068.9" y="52.5" font-size="10" fill="#5d606b" font-weight="bold" text-anchor="start" textLength="16.8" lengthAdjust="spacingAndGlyphs">USD</text>
<line x1="1041.5" y1="79.7" x2="1045.5" y2="79.7" stroke="#50535e" stroke-width="1"/>
<text x="1049.7" y="83.9" font-size="10" fill="#50535e" font-weight="normal" text-anchor="start" textLength="50" lengthAdjust="spacingAndGlyphs" stroke="#50535e" stroke-width="0.15">1.80000000</text>
<line x1="1041.5" y1="175" x2="1045.5" y2="175" stroke="#50535e" stroke-width="1"/>
<text x="1049.7" y="179.2" font-size="10" fill="#50535e" font-weight="normal" text-anchor="start" textLength="50" lengthAdjust="spacingAndGlyphs" stroke="#50535e" stroke-width="0.15">1.40000000</text>
<line x1="1041.5" y1="222.4" x2="1045.5" y2="222.4" stroke="#50535e" stroke-width="1"/>
<text x="1049.7" y="226.6" font-size="10" fill="#50535e" font-weight="normal" text-anchor="start" textLength="50" lengthAdjust="spacingAndGlyphs" stroke="#50535e" stroke-width="0.15">1.20000000</text>
<line x1="1041.5" y1="269.8" x2="1045.5" y2="269.8" stroke="#50535e" stroke-width="1"/>
<text x="1049.7" y="274.0" font-size="10" fill="#50535e" font-weight="normal" text-anchor="start" textLength="50" lengthAdjust="spacingAndGlyphs" stroke="#50535e" stroke-width="0.15">1.00000000</text>
<line x1="1041.5" y1="317.2" x2="1045.5" y2="317.2" stroke="#50535e" stroke-width="1"/>
<text x="1049.7" y="321.4" font-size="10" fill="#50535e" font-weight="normal" text-anchor="start" textLength="50" lengthAdjust="spacingAndGlyphs" stroke="#50535e" stroke-width="0.15">0.80000000</text>
<line x1="1041.5" y1="412.3" x2="1045.5" y2="412.3" stroke="#50535e" stroke-width="1"/>
<text x="1049.7" y="416.5" font-size="10" fill="#50535e" font-weight="normal" text-anchor="start" textLength="50" lengthAdjust="spacingAndGlyphs" stroke="#50535e" stroke-width="0.15">0.40000000</text>
<line x1="1041.5" y1="459.3" x2="1045.5" y2="459.3" stroke="#50535e" stroke-width="1"/>
<text x="1049.7" y="463.5" font-size="10" fill="#50535e" font-weight="normal" text-anchor="start" textLength="50" lengthAdjust="spacingAndGlyphs" stroke="#50535e" stroke-width="0.15">0.00000000</text>
<rect x="1041.5" y="123.3" width="63.7" height="13.4" fill="#2196f3"/>
<text x="1050" y="134" font-size="10" fill="#ffffff" font-weight="normal" text-anchor="start" textLength="49.5" lengthAdjust="spacingAndGlyphs" stroke="#ffffff" stroke-width="0.15">1.58924753</text>
<rect x="1041.5" y="344" width="64.1" height="25" fill="#ef5350"/>
<text x="1049.5" y="355" font-size="10" fill="#ffffff" font-weight="normal" text-anchor="start" textLength="50" lengthAdjust="spacingAndGlyphs" stroke="#ffffff" stroke-width="0.15">0.66094602</text>
<text x="1049.5" y="366.6" font-size="10" fill="#ffffff" font-weight="normal" text-anchor="start" textLength="37.5" lengthAdjust="spacingAndGlyphs" stroke="#ffffff" stroke-width="0.15">14:54:42</text>
<rect x="1041.5" y="371.5" width="64.1" height="13.5" fill="#089981"/>
<text x="1049.5" y="382" font-size="10" fill="#ffffff" font-weight="normal" text-anchor="start" textLength="50" lengthAdjust="spacingAndGlyphs" stroke="#ffffff" stroke-width="0.15">0.54526161</text>
<line x1="1041.5" y1="350.6" x2="1045" y2="350.6" stroke="#ffffff" stroke-width="1"/>
<line x1="1041.5" y1="378.5" x2="1045" y2="378.5" stroke="#ffffff" stroke-width="1"/>
<line x1="1041.5" y1="130.2" x2="1045" y2="130.2" stroke="#ffffff" stroke-width="1"/>
<line x1="61.3" y1="492.5" x2="61.3" y2="495.5" stroke="#50535e" stroke-width="1"/>
<text x="61.3" y="507.1" font-size="10" fill="#50535e" font-weight="normal" text-anchor="middle" stroke="#50535e" stroke-width="0.15">May</text>
<line x1="199.5" y1="492.5" x2="199.5" y2="495.5" stroke="#50535e" stroke-width="1"/>
<text x="199.5" y="507.1" font-size="10" fill="#50535e" font-weight="normal" text-anchor="middle" stroke="#50535e" stroke-width="0.15">10</text>
<line x1="307" y1="492.5" x2="307" y2="495.5" stroke="#50535e" stroke-width="1"/>
<text x="307" y="507.1" font-size="10" fill="#50535e" font-weight="normal" text-anchor="middle" stroke="#50535e" stroke-width="0.15">17</text>
<line x1="414.2" y1="492.5" x2="414.2" y2="495.5" stroke="#50535e" stroke-width="1"/>
<text x="414.2" y="507.1" font-size="10" fill="#50535e" font-weight="normal" text-anchor="middle" stroke="#50535e" stroke-width="0.15">24</text>
<line x1="537.5" y1="492.5" x2="537.5" y2="495.5" stroke="#50535e" stroke-width="1"/>
<text x="537.5" y="507.1" font-size="10" fill="#50535e" font-weight="normal" text-anchor="middle" stroke="#50535e" stroke-width="0.15">Jun</text>
<line x1="629.3" y1="492.5" x2="629.3" y2="495.5" stroke="#50535e" stroke-width="1"/>
<text x="629.3" y="507.1" font-size="10" fill="#50535e" font-weight="normal" text-anchor="middle" stroke="#50535e" stroke-width="0.15">7</text>
<line x1="736.8" y1="492.5" x2="736.8" y2="495.5" stroke="#50535e" stroke-width="1"/>
<text x="736.8" y="507.1" font-size="10" fill="#50535e" font-weight="normal" text-anchor="middle" stroke="#50535e" stroke-width="0.15">14</text>
<line x1="844" y1="492.5" x2="844" y2="495.5" stroke="#50535e" stroke-width="1"/>
<text x="844" y="507.1" font-size="10" fill="#50535e" font-weight="normal" text-anchor="middle" stroke="#50535e" stroke-width="0.15">21</text>
<line x1="921.3" y1="492.5" x2="921.3" y2="495.5" stroke="#50535e" stroke-width="1"/>
<text x="921.3" y="507.1" font-size="10" fill="#50535e" font-weight="normal" text-anchor="middle" stroke="#50535e" stroke-width="0.15">26</text>
<line x1="997.7" y1="492.5" x2="997.7" y2="495.5" stroke="#50535e" stroke-width="1"/>
<text x="997.7" y="507.1" font-size="10" fill="#50535e" font-weight="normal" text-anchor="middle" stroke="#50535e" stroke-width="0.15">Jul</text>
</g>
<g>
<g fill="#2356e8"><circle cx="9.6" cy="532.4" r="4.4"/><circle cx="14.6" cy="530.6" r="5.5"/><circle cx="22.1" cy="532.2" r="4.5"/><rect x="9.6" y="531" width="12.5" height="5.7"/></g>
<path d="M6.8,536 L13.2,529.4 L18.4,534.4 L24.2,528.2" fill="none" stroke="#ffffff" stroke-width="1.35" stroke-linejoin="round"/>
<text x="28.4" y="534.4" font-family='"Liberation Sans", sans-serif' font-size="10.4" fill="#131722" textLength="58.4" lengthAdjust="spacingAndGlyphs">TradingView</text>
</g>
</svg>
</body></html>
